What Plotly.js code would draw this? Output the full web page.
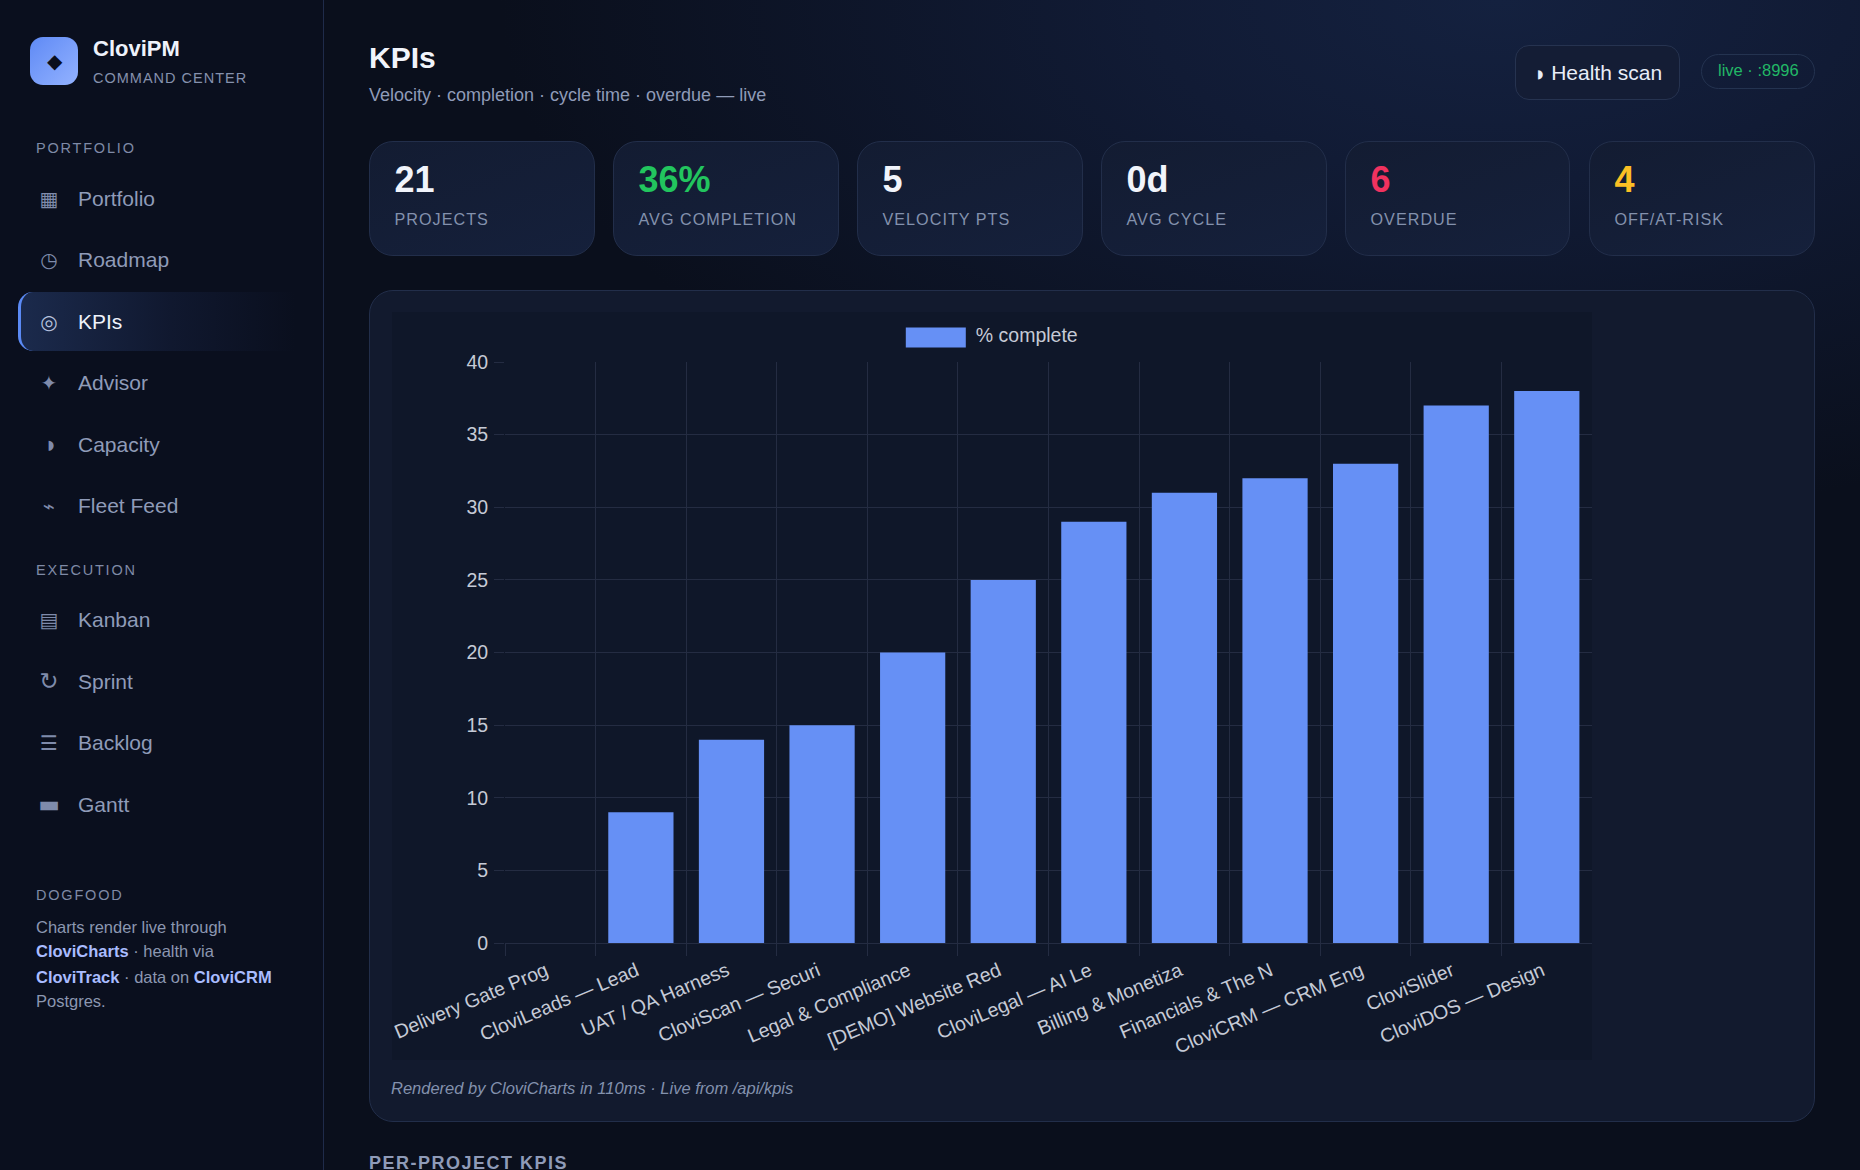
<!DOCTYPE html>
<html><head><meta charset="utf-8"><title>CloviPM KPIs</title>
<script src="https://cdn.plot.ly/plotly-3.0.1.min.js"></script>
<style>
html,body{margin:0;padding:0;width:1860px;height:1170px;overflow:hidden;background:#0a0f1c;font-family:"Liberation Sans",Arial,sans-serif}
#bg{position:absolute;left:0;top:0;width:1860px;height:1170px;background:radial-gradient(ellipse 1000px 520px at 1500px 0px,#14213f 0%,#111b35 35%,rgba(10,15,28,0) 100%),#0a0f1c}
#side{position:absolute;left:0;top:0;width:323px;height:1170px;background:#0a0f1e;border-right:1px solid #1f2b4a}
.t{position:absolute;white-space:nowrap;transform:translateY(-50%);line-height:1.2}
#logo{position:absolute;left:30px;top:37px;width:48px;height:48px;border-radius:13px;background:linear-gradient(135deg,#5f8af5,#93b2ff);color:#0a0f1e;font-size:20px;display:flex;align-items:center;justify-content:center}
.sec{left:36px;font-size:14.5px;letter-spacing:1.8px;color:#7f8aa6}
.nav{left:78px;font-size:21px;color:#8f9bb8}
.ico{left:49px;transform:translate(-50%,-50%);font-size:20px;color:#7f8bab;font-family:"DejaVu Sans"}
#active{position:absolute;left:18px;top:292px;width:277px;height:59px;box-sizing:border-box;border-left:3px solid #5b8af5;border-radius:15px 0 0 15px;background:linear-gradient(90deg,#1b2a4c 0%,rgba(20,30,58,.6) 55%,rgba(10,15,30,0) 100%)}
.dog{left:36px;font-size:16.5px;color:#8c97b1}
.dog b{color:#a9bcff}
.card{position:absolute;top:141px;height:115px;box-sizing:border-box;border:1px solid #222e4a;border-radius:24px;background:linear-gradient(160deg,#131c32 0%,#15203b 100%)}
.val{position:absolute;left:24.5px;top:38px;transform:translateY(-50%);font-size:36px;font-weight:bold;line-height:1.2}
.lab{position:absolute;left:24.5px;top:78px;transform:translateY(-50%);font-size:16.2px;letter-spacing:1px;color:#8391ad;white-space:nowrap;line-height:1.2}
#chartcard{position:absolute;left:369px;top:290px;width:1446px;height:832px;box-sizing:border-box;border:1px solid #222e4a;border-radius:24px;background:#121a2e}
#plot{position:absolute;left:392px;top:312px;width:1200px;height:748px}
#plot g.xtick{transform:translate(-4.5px,1px)}
#btn{position:absolute;left:1515px;top:45px;width:165px;height:55px;box-sizing:border-box;border:1px solid #263350;border-radius:14px;background:#141d35}
#pill{position:absolute;left:1701px;top:54px;width:114px;height:35px;box-sizing:border-box;border:1px solid #243350;border-radius:18px}
</style></head><body>
<div id="bg"></div>
<div id="side"></div>
<div id="logo">◆</div>
<div class="t" style="left:93px;top:49px;font-size:22px;font-weight:bold;color:#eef2fb">CloviPM</div>
<div class="t" style="left:93px;top:78.5px;font-size:14.5px;letter-spacing:1px;color:#8591ad">COMMAND CENTER</div>
<div class="t sec" style="top:149px">PORTFOLIO</div>
<div id="active"></div>
<div class="t ico" style="top:199px">▦</div><div class="t nav" style="top:199px">Portfolio</div>
<div class="t ico" style="top:260px">◷</div><div class="t nav" style="top:260px">Roadmap</div>
<div class="t ico" style="top:322px;color:#b6c2de">◎</div><div class="t nav" style="top:322px;color:#eef2fb">KPIs</div>
<div class="t ico" style="top:383px">✦</div><div class="t nav" style="top:383px">Advisor</div>
<div class="t ico" style="top:445px;font-size:13px;left:51px">◗</div><div class="t nav" style="top:445px">Capacity</div>
<div class="t ico" style="top:506px">⌁</div><div class="t nav" style="top:506px">Fleet Feed</div>
<div class="t sec" style="top:571px">EXECUTION</div>
<div class="t ico" style="top:620px">▤</div><div class="t nav" style="top:620px">Kanban</div>
<div class="t ico" style="top:682px;font-size:23px">↻</div><div class="t nav" style="top:682px">Sprint</div>
<div class="t ico" style="top:743px">☰</div><div class="t nav" style="top:743px">Backlog</div>
<div class="t ico" style="top:805px;font-size:23px">▬</div><div class="t nav" style="top:805px">Gantt</div>
<div class="t sec" style="top:896px">DOGFOOD</div>
<div class="t dog" style="top:928px">Charts render live through</div>
<div class="t dog" style="top:952px"><b>CloviCharts</b> · health via</div>
<div class="t dog" style="top:978px"><b>CloviTrack</b> · data on <b>CloviCRM</b></div>
<div class="t dog" style="top:1002px">Postgres.</div>

<div class="t" style="left:369px;top:58px;font-size:30px;font-weight:bold;color:#f1f4fb">KPIs</div>
<div class="t" style="left:369px;top:96px;font-size:18px;color:#8f9bb8">Velocity · completion · cycle time · overdue — live</div>
<div id="btn"></div>
<div class="t" style="left:1537px;top:73px;font-size:21px;color:#e8edf8"><span style="font-family:'DejaVu Sans';font-size:12px;vertical-align:2px;margin-right:2px">◗</span> Health scan</div>
<div id="pill"></div>
<div class="t" style="left:1718px;top:71px;font-size:16.5px;color:#22b866">live · :8996</div>

<div id="cards"></div>
<div id="chartcard"></div>
<div id="plot"></div>
<div class="t" style="left:391px;top:1089px;font-size:16.5px;font-style:italic;color:#8391ad">Rendered by CloviCharts in 110ms · Live from /api/kpis</div>
<div class="t" style="left:369px;top:1164px;font-size:18px;font-weight:bold;letter-spacing:1.5px;color:#8f9bb8">PER-PROJECT KPIS</div>

<script>
const kpiValues = ["21","36%","5","0d","6","4"];
const kpiLabels = ["PROJECTS","AVG COMPLETION","VELOCITY PTS","AVG CYCLE","OVERDUE","OFF/AT-RISK"];
const kpiColors = ["#f1f4fb","#22c55e","#f1f4fb","#f1f4fb","#f0325f","#fbbf24"];
const projects = ["Delivery Gate Prog","CloviLeads — Lead","UAT / QA Harness","CloviScan — Securi","Legal & Compliance","[DEMO] Website Red","CloviLegal — AI Le","Billing & Monetiza","Financials & The N","CloviCRM — CRM Eng","CloviSlider","CloviDOS — Design"];
const percentComplete = [0,9,14,15,20,25,29,31,32,33,37,38];
const yTicks = [0,5,10,15,20,25,30,35,40];

const cardX = [369,613,857,1101,1345,1589];
const cards = document.getElementById('cards');
kpiValues.forEach((v,i)=>{
  const c=document.createElement('div');c.className='card';
  c.style.left=cardX[i]+'px';c.style.width=(i===4?225:226)+'px';
  c.innerHTML='<div class="val" style="color:'+kpiColors[i]+'">'+v+'</div><div class="lab">'+kpiLabels[i]+'</div>';
  cards.appendChild(c);
});

const GRID='#242c42';
const data=[{type:'bar',name:'% complete',x:projects,y:percentComplete,width:0.72,
  marker:{color:'#6690f5',line:{width:0}},hoverinfo:'x+y'}];
const layout={
  width:1200,height:748,autosize:false,
  margin:{l:112.5,r:0,t:50,b:117,pad:0,autoexpand:false},
  paper_bgcolor:'#0f1729',plot_bgcolor:'rgba(0,0,0,0)',
  font:{family:'"Liberation Sans",Arial,sans-serif',color:'#c5cad6',size:19},
  showlegend:true,
  legend:{orientation:'h',xref:'container',yref:'container',x:0.424,y:0.9955,xanchor:'left',yanchor:'top',
    itemwidth:65,bgcolor:'rgba(0,0,0,0)',font:{size:19.5,color:'#c5cad6'},itemclick:false,itemdoubleclick:false},
  xaxis:{type:'category',range:[-0.5,11.499],tickson:'boundaries',ticks:'outside',ticklen:12,tickcolor:GRID,tickwidth:1,
    showgrid:true,gridcolor:GRID,gridwidth:1,zeroline:false,showline:false,tickangle:-23,
    ticklabelstandoff:11,
    tickfont:{size:19.5,color:'#c5cad6'},automargin:false,fixedrange:true},
  yaxis:{range:[0,40],tickmode:'array',tickvals:yTicks,ticks:'outside',ticklen:10,tickcolor:GRID,tickwidth:1,
    showgrid:true,gridcolor:GRID,gridwidth:1,zeroline:true,zerolinecolor:GRID,zerolinewidth:1,showline:false,
    ticklabelstandoff:2,ticklabelshift:-3.75,
    tickfont:{size:19.5,color:'#c5cad6'},automargin:false,fixedrange:true}
};
Plotly.newPlot('plot',data,layout,{displayModeBar:false,responsive:false}).then(()=>{
  const sw=document.querySelector('#plot .legendpoints path');
  if(sw) sw.setAttribute('d','M27.5,13H-32.5V-7H27.5Z');
});
</script>
</body></html>
